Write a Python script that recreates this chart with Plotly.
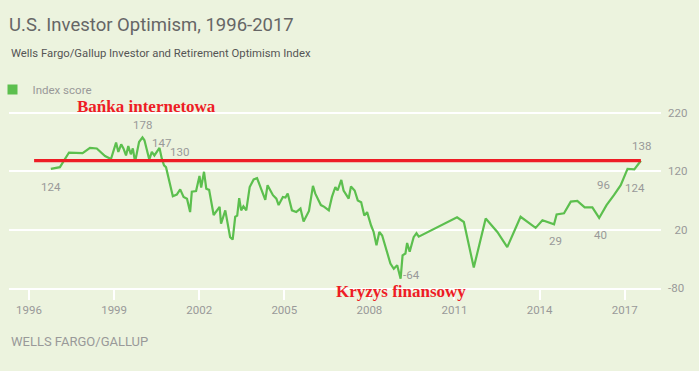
import plotly.graph_objects as go

# ---------------- data ----------------
years = [
    1996.77, 1997.09, 1997.41, 1997.89, 1998.15, 1998.39, 1998.68, 1998.89,
    1999.07, 1999.15, 1999.25, 1999.33, 1999.42, 1999.50, 1999.59, 1999.66,
    1999.74, 1999.88, 2000.00, 2000.07, 2000.24, 2000.33, 2000.42, 2000.60,
    2000.68, 2000.76, 2000.83, 2000.91, 2000.98, 2001.07, 2001.21, 2001.33,
    2001.45, 2001.57, 2001.68, 2001.74, 2001.89, 2002.01, 2002.07, 2002.17,
    2002.25, 2002.35, 2002.51, 2002.62, 2002.72, 2002.77, 2002.92, 2003.09,
    2003.18, 2003.27, 2003.34, 2003.41, 2003.48, 2003.56, 2003.66, 2003.78,
    2003.92, 2004.04, 2004.21, 2004.33, 2004.41, 2004.60, 2004.72, 2004.80,
    2004.95, 2005.04, 2005.12, 2005.27, 2005.42, 2005.57, 2005.68, 2005.81,
    2005.87, 2006.01, 2006.09, 2006.21, 2006.29, 2006.41, 2006.57, 2006.68,
    2006.80, 2006.88, 2007.01, 2007.09, 2007.21, 2007.27, 2007.35, 2007.48,
    2007.59, 2007.71, 2007.82, 2007.92, 2008.06, 2008.15, 2008.25, 2008.35,
    2008.45, 2008.74, 2008.86, 2008.98, 2009.10, 2009.17, 2009.27, 2009.33,
    2009.42, 2009.56, 2009.66, 2009.74, 2011.09, 2011.33, 2011.68, 2012.10,
    2012.51, 2012.86, 2013.33, 2013.86, 2014.10, 2014.51, 2014.60, 2014.86,
    2015.10, 2015.33, 2015.59, 2015.86, 2016.10, 2016.36, 2016.62, 2016.86,
    2017.10, 2017.34, 2017.57,
]
index_score = [
    124, 127, 152, 151, 160, 159, 146, 141,
    169, 153, 166, 159, 147, 163, 149, 159,
    136, 170, 178, 173, 140, 153, 147, 160,
    142, 130, 127, 110, 99, 77, 80, 89,
    76, 73, 50, 85, 86, 112, 92, 119,
    90, 88, 45, 53, 59, 30, 53, 7,
    3, 42, 44, 74, 53, 60, 53, 93,
    106, 108, 85, 71, 96, 79, 73, 62,
    76, 75, 82, 53, 50, 56, 34, 48,
    52, 95, 82, 70, 62, 59, 53, 76,
    93, 87, 105, 87, 79, 73, 94, 87,
    70, 67, 44, 50, 27, 16, -7, 16,
    10, -38, -47, -41, -64, -24, -21, -3,
    -18, 7, 14, 8, 41, 33, -45, 39,
    16, -10, 42, 23, 36, 29, 46, 48,
    68, 69, 58, 58, 40, 62, 79, 96,
    124, 123, 138,
]
# labelled points (index into the series)
label_idx = [0, 18, 22, 25, 100, 117, 124, 127, 128, 130]

x_tick_vals = [1996, 1999, 2002, 2005, 2008, 2011, 2014, 2017]
y_tick_vals = [220, 120, 20, -80]
y_tick_text = ["220", "120", "\u200720", "-80"]

reference_level = 138
reference_span = [1996.18, 2017.57]

title = "U.S. Investor Optimism, 1996-2017"
subtitle = "Wells Fargo/Gallup Investor and Retirement Optimism Index"
series_name = "Index score"
source = "WELLS FARGO/GALLUP"
note_bubble = "Bańka internetowa"
note_crisis = "Kryzys finansowy"

# ---------------- styles ----------------
BG = "#ecf3de"
GREEN = "#5cbf4e"
RED = "#ee1c25"
GRAY = "#999999"
FONT = "Roboto"
# label offsets in px (dx, dy) relative to point
label_offsets = [(0, 18), (0, -12), (7, -12), (15, -13), (11, -4),
                 (1, 17), (1, 17), (-17, 0), (7, 19), (1, -15)]

fig = go.Figure()
fig.add_trace(go.Scatter(
    x=years, y=index_score, mode="lines", name=series_name,
    line=dict(color=GREEN, width=2.2), showlegend=False, hoverinfo="x+y",
))
fig.add_trace(go.Scatter(
    x=[None], y=[None], mode="markers", name=series_name,
    marker=dict(symbol="square", size=10, color=GREEN), showlegend=True,
))

fig.add_shape(type="line", xref="x", yref="y",
              x0=reference_span[0], x1=reference_span[1],
              y0=reference_level, y1=reference_level,
              line=dict(color=RED, width=3.2), layer="above")

for i, (dx, dy) in zip(label_idx, label_offsets):
    v = index_score[i]
    fig.add_annotation(x=years[i], y=v, xref="x", yref="y", text=str(v),
                       showarrow=False, xshift=dx, yshift=-dy, borderpad=0,
                       font=dict(family=FONT, size=11.5, color=GRAY))

fig.add_annotation(x=0.2109, y=1.0055, xref="paper", yref="paper",
                   text=f"<b>{note_bubble}</b>", showarrow=False,
                   xanchor="center", yanchor="middle",
                   font=dict(family="Liberation Serif", size=17, color=RED))
fig.add_annotation(x=0.601, y=-0.017, xref="paper", yref="paper",
                   text=f"<b>{note_crisis}</b>", showarrow=False,
                   xanchor="center", yanchor="middle", borderpad=0,
                   font=dict(family="Liberation Serif", size=17, color=RED))

fig.add_annotation(x=0, y=1.293, xref="paper", yref="paper", text=subtitle,
                   showarrow=False, xanchor="left", yanchor="middle",
                   font=dict(family=FONT, size=11.3, color="#555555"))
fig.add_annotation(x=0, y=-0.293, xref="paper", yref="paper", text=source,
                   showarrow=False, xanchor="left", yanchor="middle",
                   font=dict(family=FONT, size=13, color=GRAY))

fig.update_layout(
    width=699, height=371,
    margin=dict(l=9, r=38, t=107, b=83, pad=0, autoexpand=False),
    paper_bgcolor=BG, plot_bgcolor=BG,
    title=dict(text=title, x=0.0129, xref="container", xanchor="left",
               y=1 - 25 / 371, yref="container", yanchor="middle",
               font=dict(family=FONT, size=18.5, color="#666666")),
    showlegend=True,
    legend=dict(x=-0.0253, y=1.097, xref="paper", yref="paper",
                xanchor="left", yanchor="middle", bgcolor="rgba(0,0,0,0)",
                font=dict(family=FONT, size=11.5, color=GRAY),
                borderwidth=0, itemwidth=30),
    xaxis=dict(range=[1995.295, 2018.28], tickvals=x_tick_vals,
               showgrid=False, zeroline=False, showline=True,
               linecolor="white", linewidth=2, ticks="outside",
               ticklen=10, tickwidth=2, tickcolor="white",
               tickfont=dict(family=FONT, size=11.5, color=GRAY)),
    yaxis=dict(range=[-80, 230], side="right", tickvals=y_tick_vals,
               ticktext=y_tick_text, showgrid=True, gridcolor="white",
               gridwidth=2, zeroline=False, showline=False, ticks="",
               ticklabelstandoff=6,
               tickfont=dict(family=FONT, size=11.5, color=GRAY)),
)

fig.write_html(
    "out.html",
    config={"displayModeBar": False},
    post_script=(
        "document.body.style.margin='0';"
        "document.body.style.background='" + BG + "';"
    ),
)
